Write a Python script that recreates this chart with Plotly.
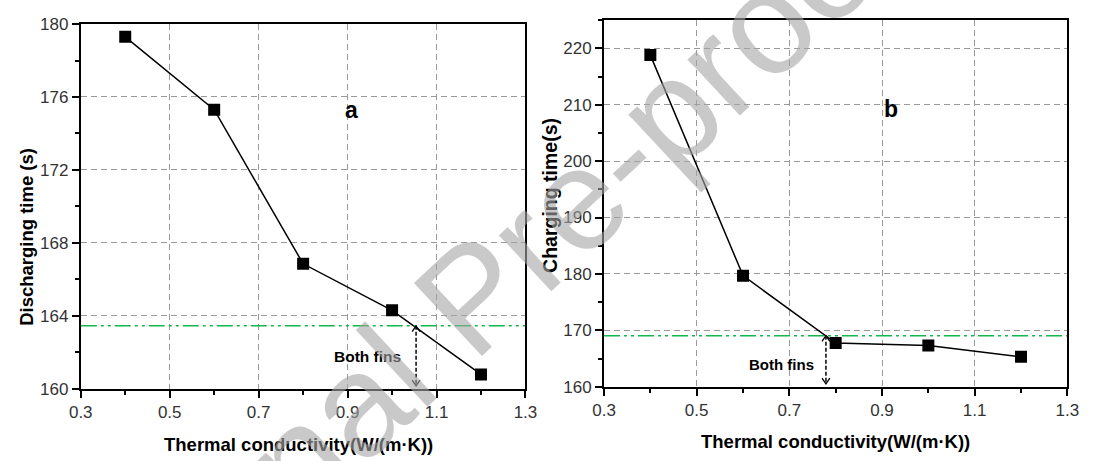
import plotly.graph_objects as go

# ---------------- data ----------------
k_left = [0.4, 0.6, 0.8, 1.0, 1.2]
discharging_time = [179.3, 175.3, 166.85, 164.3, 160.78]
k_right = [0.4, 0.6, 0.8, 1.0, 1.2]
charging_time = [218.8, 179.7, 167.75, 167.3, 165.3]

ref_left = 163.45      # both-fins discharging time
ref_right = 169.05     # both-fins charging time
arrow_x_left = 1.054
arrow_x_right = 0.779

x_ticks = [0.3, 0.5, 0.7, 0.9, 1.1, 1.3]
y_ticks_left = [160, 164, 168, 172, 176, 180]
y_ticks_right = [160, 170, 180, 190, 200, 210, 220]

W, H = 1094, 461
XR = [0.3, 1.3]
YR_L = [160, 180]
YR_R = [160, 225.1]
DOM_XL = [70.3 / W, 525 / W]
DOM_YL = [1 - 396 / H, 1 - 15.7 / H]
DOM_XR = [605.3 / W, 1079 / W]
DOM_YR = [1 - 394 / H, 1 - 11 / H]

FONT = "Arial, Liberation Sans, sans-serif"
GREEN = "#12b84a"

fig = go.Figure()

fig.add_trace(go.Scatter(x=k_left, y=discharging_time, mode="lines+markers",
                         line=dict(color="black", width=1.5),
                         marker=dict(symbol="square", size=12, color="black"),
                         xaxis="x", yaxis="y", showlegend=False))
fig.add_trace(go.Scatter(x=k_right, y=charging_time, mode="lines+markers",
                         line=dict(color="black", width=1.5),
                         marker=dict(symbol="square", size=12, color="black"),
                         xaxis="x2", yaxis="y2", showlegend=False))

# reference (green dash-dot-dot) lines
for xa, ya, yv in [("x", "y", ref_left), ("x2", "y2", ref_right)]:
    fig.add_trace(go.Scatter(x=XR, y=[yv, yv], mode="lines",
                             line=dict(color=GREEN, width=1.6, dash="16px,4px,3px,4px,3px,4px"),
                             xaxis=xa, yaxis=ya, showlegend=False, hoverinfo="skip"))


def px_scale(rng, dom, total):
    return (rng[1] - rng[0]) / ((dom[1] - dom[0]) * total)


# double-headed dashed arrows
for xa, ya, ax, ytop, yrng, xdom, ydom in [
        ("x", "y", arrow_x_left, ref_left, YR_L, DOM_XL, DOM_YL),
        ("x2", "y2", arrow_x_right, ref_right, YR_R, DOM_XR, DOM_YR)]:
    ybot = yrng[0] + 3 * px_scale(yrng, ydom, H)
    fig.add_trace(go.Scatter(x=[ax, ax], y=[ytop, ybot], mode="lines",
                             line=dict(color="black", width=1.5, dash="4px,2px"),
                             xaxis=xa, yaxis=ya, showlegend=False, hoverinfo="skip"))
    sx = px_scale(XR, xdom, W)
    sy = px_scale(yrng, ydom, H)
    fig.add_trace(go.Scatter(x=[ax - 4 * sx, ax, ax + 4 * sx], y=[ytop - 6 * sy, ytop, ytop - 6 * sy],
                             mode="lines", line=dict(color="black", width=1.3),
                             xaxis=xa, yaxis=ya, showlegend=False, hoverinfo="skip"))
    fig.add_trace(go.Scatter(x=[ax - 4 * sx, ax, ax + 4 * sx], y=[ybot + 6 * sy, ybot, ybot + 6 * sy],
                             mode="lines", line=dict(color="black", width=1.3),
                             xaxis=xa, yaxis=ya, showlegend=False, hoverinfo="skip"))

axis_common = dict(showline=True, linecolor="black", linewidth=2, mirror=True,
                   ticks="outside", ticklen=7, tickwidth=1.5, tickcolor="black",
                   showgrid=True, gridcolor="#9a9a9a", griddash="6px,4px", gridwidth=1,
                   zeroline=False, tickfont=dict(family=FONT, size=17, color="#333333"))

fig.update_layout(
    width=W, height=H, margin=dict(l=0, r=0, t=0, b=0),
    plot_bgcolor="white", paper_bgcolor="white",
    xaxis=dict(axis_common, range=XR, domain=DOM_XL, anchor="y", tickvals=x_ticks,
               ticktext=[str(v) for v in x_ticks],
               minor=dict(dtick=0.1, tick0=0.3, ticks="outside", ticklen=4, tickcolor="black", showgrid=False)),
    yaxis=dict(axis_common, range=YR_L, domain=DOM_YL, anchor="x", tickvals=y_ticks_left,
               minor=dict(dtick=2, tick0=160, ticks="outside", ticklen=4, tickcolor="black", showgrid=False)),
    xaxis2=dict(axis_common, range=XR, domain=DOM_XR, anchor="y2", tickvals=x_ticks,
                ticktext=[str(v) for v in x_ticks],
                minor=dict(dtick=0.1, tick0=0.3, ticks="outside", ticklen=4, tickcolor="black", showgrid=False)),
    yaxis2=dict(axis_common, range=YR_R, domain=DOM_YR, anchor="x2", tickvals=y_ticks_right,
                minor=dict(dtick=5, tick0=160, ticks="outside", ticklen=4, tickcolor="black", showgrid=False)),
)

annos = [
    dict(text="<b>a</b>", x=0.909, y=175.3, xref="x", yref="y", font=dict(size=23)),
    dict(text="<b>b</b>", x=0.919, y=209.3, xref="x2", yref="y2", font=dict(size=23)),
    dict(text="<b>Both fins</b>", x=0.944, y=161.77, xref="x", yref="y", font=dict(size=15.5)),
    dict(text="<b>Both fins</b>", x=0.682, y=163.9, xref="x2", yref="y2", font=dict(size=15)),
    dict(text="<b>Discharging time (s)</b>", x=15 / W, y=1 - 238 / H, xref="paper", yref="paper",
         textangle=-90, font=dict(size=18.5)),
    dict(text="<b>Charging time(s)</b>", x=550 / W, y=1 - 194 / H, xref="paper", yref="paper",
         textangle=-90, font=dict(size=19.5)),
    dict(text="<b>Thermal conductivity(W/(m·K))</b>", x=293 / W, y=1 - 454 / H, xref="paper",
         yref="paper", font=dict(size=18.5)),
    dict(text="<b>Thermal conductivity(W/(m·K))</b>", x=842 / W, y=1 - 451 / H, xref="paper",
         yref="paper", font=dict(size=18.5)),
    dict(text="Journal Pre-proof", x=470 / W, y=1 - 300 / H, xref="paper", yref="paper",
         textangle=-43, font=dict(size=145, color="rgba(165,165,165,0.6)")),
]
for a in annos:
    a.setdefault("showarrow", False)
    a.setdefault("xanchor", "center")
    a.setdefault("yanchor", "middle")
    f = a["font"]
    f.setdefault("family", FONT)
    f.setdefault("color", "black")
    fig.add_annotation(**a)

fig.write_html("out.html")
